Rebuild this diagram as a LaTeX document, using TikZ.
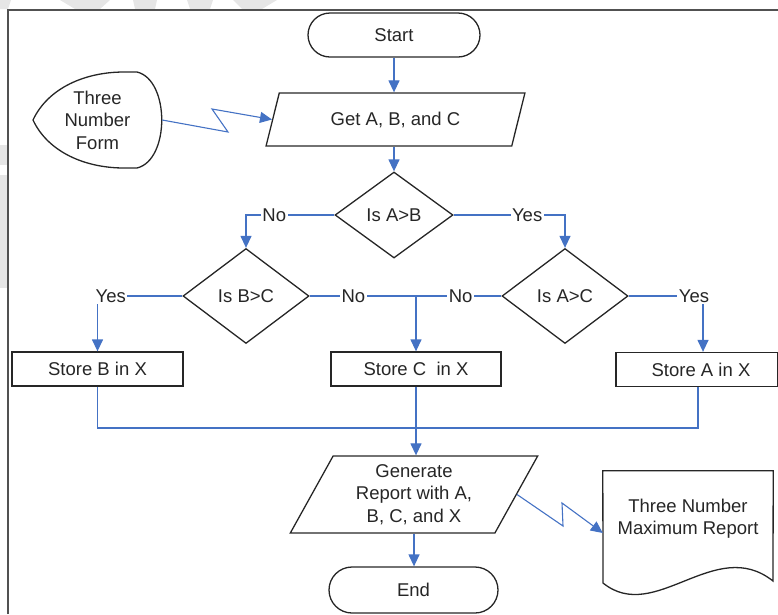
\documentclass[tikz,border=0pt]{standalone}
\usepackage{fontspec}
\setmainfont{Liberation Sans}
\usetikzlibrary{shapes.geometric,arrows.meta}
\definecolor{flowblue}{RGB}{68,114,196}
\definecolor{ink}{RGB}{38,38,38}
\definecolor{wm}{RGB}{230,230,230}
\begin{document}
\begin{tikzpicture}[x=1pt,y=-1pt,
  every node/.style={font=\fontsize{18.5}{22.5}\selectfont, text=ink},
  outline/.style={draw=ink, line width=1.3pt},
  terminal/.style={outline, rectangle, rounded corners=22pt, minimum width=172pt, minimum height=44pt, inner sep=0pt},
  process/.style={outline, rectangle, minimum height=34pt, inner sep=0pt},
  io/.style={outline, trapezium, trapezium left angle=65, trapezium right angle=115, trapezium stretches=true, inner sep=0pt, align=center},
  decision/.style={outline, diamond, inner sep=0pt, minimum width=126pt, minimum height=95pt},
  line/.style={draw=flowblue, line width=1.3pt},
  flow/.style={line, -{Triangle[length=12pt,width=11pt]}},
  lbl/.style={fill=white, inner sep=1.5pt}
]
\useasboundingbox (0,0) rectangle (778,614);

% faint background marks along the page edges
\fill[wm] (0,0) -- (11,0) -- (8,9) -- (0,9) -- cycle;
\fill[wm] (60,0) -- (110,0) -- (100,9) -- (75,9) -- cycle;
\fill[wm] (133,0) -- (157,0) -- (155,9) -- (135,9) -- cycle;
\fill[wm] (187,0) -- (213,0) -- (210,9) -- (190,9) -- cycle;
\fill[wm] (233,0) -- (277,0) -- (262,9) -- (242,9) -- cycle;
\fill[wm] (0,145) rectangle (7,165);
\fill[wm] (0,175) rectangle (7,288);

% page frame
\draw[draw=ink!80, line width=1.2pt] (8,614) -- (8,10) -- (778,10);

% nodes
\node[terminal] (start) at (394,35) {Start};
\node[io, minimum width=259pt, minimum height=53pt] (get) at (395.5,119.5) {Get A, B, and C};
\node[decision, minimum width=118pt, minimum height=86pt] (ab) at (394,215) {Is A>B};
\node[decision] (bc) at (246,296) {Is B>C};
\node[decision] (ac) at (565,296) {Is A>C};
\node[process, minimum width=171pt] (storeB) at (97.5,369) {Store B in X};
\node[process, minimum width=170pt] (storeC) at (416,369) {Store C\ \ in X};
\node[process, minimum width=162pt] (storeA) at (697,369.5) {\hspace*{8pt}Store A in X};
\node[io, minimum width=248pt, minimum height=77pt, trapezium left angle=63, trapezium right angle=117] (gen) at (414,494.5) {Generate\\Report with A,\\B, C, and X};
\node[terminal, minimum width=169pt, minimum height=46pt, rounded corners=23pt] (end) at (413.5,590) {End};

% display shape for the input form
\node[align=center, minimum width=129pt, minimum height=96pt, inner sep=0pt] (form) at (97.5,120) {Three\\Number\\Form};
\draw[outline] (33,120) .. controls (48,88) and (85,72) .. (124,72) -- (137,72)
  .. controls (170,80) and (170,160) .. (137,168) -- (124,168)
  .. controls (85,168) and (48,152) .. (33,120) -- cycle;

% document shape for the report
\node[minimum width=170pt, minimum height=112pt, inner sep=0pt] (report) at (688,527) {};
\draw[outline] (report.north west) -- (report.north east) -- (773,581)
  .. controls (715,535) and (655,625) .. (603,583) -- cycle;
\node[align=center] (reportText) at (688,518.5) {Three Number\\Maximum Report};

% connectors
\draw[flow] (start.south) -- (start.south |- get.north);
\draw[flow] (ab.north |- get.south) -- (ab.north);
\draw[flow] (ab.west) -| node[lbl, pos=0.34] {No} (bc.north);
\draw[flow] (ab.east) -| node[lbl, pos=0.33] {Yes} (ac.north);
\draw[flow] (bc.west) -| node[lbl, pos=0.5, anchor=west, xshift=-4pt] {Yes} (storeB.north);
\draw[flow] (ac.east) -| node[lbl, pos=0.5, xshift=-9pt] {Yes} ([xshift=6pt]storeA.north);
\draw[line] (bc.east) -- node[lbl, pos=0.228] {No} node[lbl, pos=0.788] {No} (ac.west);
\draw[flow] (storeC.north |- bc.east) -- (storeC.north);

\coordinate (merge) at (415,428);
\draw[line] (storeB.south) |- (merge) -| ([xshift=1pt]storeA.south);
\draw[flow] (storeC.south) -- (storeC.south |- gen.north);
\draw[flow] (gen.south) -- (gen.south |- end.north);

% communication links
\coordinate (z1a) at (228,132);
\coordinate (z1b) at (212,109);
\draw[flow, line width=1.1pt] (form.east) -- (z1a) -- (z1b) -- (get.west);
\coordinate (z2a) at (563,526);
\coordinate (z2b) at (562,503);
\draw[flow, line width=1.1pt] (gen.east) -- (z2a) -- (z2b) -- ([yshift=-6pt]report.west);
\end{tikzpicture}
\end{document}
